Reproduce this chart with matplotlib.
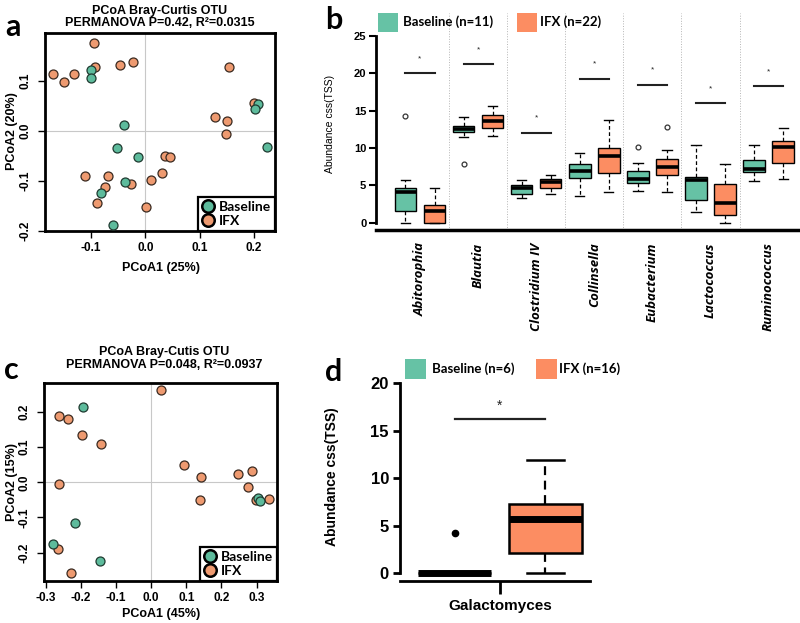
import matplotlib
matplotlib.use('Agg')
import matplotlib.pyplot as plt
from matplotlib.lines import Line2D
from matplotlib.patches import Rectangle

plt.rcParams['axes.unicode_minus'] = False
plt.rcParams['font.family'] = ['Liberation Sans', 'DejaVu Sans']

# ---------------- data ----------------
# Panel a (PCoA, all samples)
ifx_a_x = [-0.095, -0.171, -0.150, -0.131, -0.092, -0.046, -0.023, -0.112, -0.069, -0.075, -0.090,
           -0.026, 0.011, 0.030, 0.036, 0.045, 0.001, 0.155, 0.128, 0.150, 0.149, 0.201]
ifx_a_y = [0.177, 0.115, 0.099, 0.115, 0.128, 0.132, 0.139, -0.089, -0.089, -0.111, -0.144,
           -0.105, -0.097, -0.084, -0.050, -0.052, -0.152, 0.128, 0.028, 0.021, -0.006, 0.057]
base_a_x = [-0.101, -0.101, -0.039, -0.052, -0.013, -0.037, -0.082, -0.060, 0.207, 0.203, 0.225]
base_a_y = [0.123, 0.107, 0.013, -0.033, -0.052, -0.101, -0.124, -0.187, 0.055, 0.045, -0.031]

# Panel c (PCoA, fungi)
ifx_c_x = [0.029, -0.262, -0.237, -0.197, -0.143, -0.261, -0.264, -0.227, 0.094, 0.141, 0.138,
           0.246, 0.288, 0.275, 0.299, 0.335]
ifx_c_y = [0.264, 0.189, 0.181, 0.136, 0.110, -0.006, -0.190, -0.259, 0.050, 0.015, -0.051,
           0.025, 0.032, -0.014, -0.049, -0.047]
base_c_x = [-0.194, -0.217, -0.279, -0.147, 0.304, 0.309]
base_c_y = [0.214, -0.117, -0.175, -0.223, -0.045, -0.054]

# Panel b (boxplots per genus)
genera = ['Abitorophia', 'Blautia', 'Clostridium IV', 'Collinsella', 'Eubacterium',
          'Lactococcus', 'Ruminococcus']
b_base_whislo = [0.0, 11.5, 3.35, 3.6, 4.24, 1.43, 5.6]
b_base_q1 = [1.6, 12.1, 3.9, 6.0, 5.36, 3.0, 6.8]
b_base_med = [4.06, 12.6, 4.7, 6.9, 5.9, 5.7, 7.14]
b_base_q3 = [4.6, 12.95, 5.1, 7.86, 6.96, 6.16, 8.35]
b_base_whishi = [5.7, 14.15, 5.7, 9.3, 7.95, 10.36, 10.45]
b_base_fliers = [[14.3], [7.86], [], [], [10.2], [], []]
b_ifx_whislo = [0.0, 11.65, 3.85, 4.15, 4.15, 0.0, 5.9]
b_ifx_q1 = [0.0, 12.7, 4.6, 6.7, 6.34, 1.0, 8.0]
b_ifx_med = [1.56, 13.6, 5.5, 8.9, 7.5, 2.68, 10.13]
b_ifx_q3 = [2.4, 14.46, 5.85, 10.0, 8.5, 5.13, 11.0]
b_ifx_whishi = [4.7, 15.6, 6.4, 13.7, 9.7, 7.86, 12.7]
b_ifx_fliers = [[], [], [], [], [12.86], [], []]
b_sig_y = [20.0, 21.3, 12.05, 19.3, 18.5, 16.0, 18.3]
b_star_y = [21.9, 23.2, 14.0, 21.25, 20.4, 17.9, 20.2]
b_yticks = [0, 5, 10, 15, 20, 25]

# Panel d (Galactomyces)
d_label = 'Galactomyces'
d_base = dict(whislo=0.0, q1=0.0, med=0.0, q3=0.0, whishi=0.0, fliers=[4.18])
d_ifx = dict(whislo=0.0, q1=2.07, med=5.73, q3=7.24, whishi=11.9, fliers=[])
d_sig_y = 16.24
d_star_y = 17.6
d_yticks = [0, 5, 10, 15, 20]

GREEN = '#66C2A5'
ORANGE = '#FC8D62'
PT_GREEN = '#5DBB9C'
PT_ORANGE = '#EE9A70'

W, H = 800, 623
fig = plt.figure(figsize=(8, 6.23), dpi=100)


def rect(l, t, r, b):
    return [l / W, 1 - b / H, (r - l) / W, (b - t) / H]


def ftext(x, y, s, **kw):
    fig.text(x / W, 1 - y / H, s, **kw)


def frect(l, t, r, b, color):
    fig.add_artist(Rectangle((l / W, 1 - b / H), (r - l) / W, (b - t) / H,
                             transform=fig.transFigure, facecolor=color, edgecolor='none'))


# ---------------- PCoA panels ----------------
def pcoa(pos, bx, by, ix, iy, xlim, ylim, xticks, yticks):
    ax = fig.add_axes(pos)
    ax.axhline(0, color='#c8c8c8', lw=0.8, zorder=0)
    ax.axvline(0, color='#c8c8c8', lw=0.8, zorder=0)
    ax.scatter(ix, iy, s=42, c=PT_ORANGE, edgecolors='#3a2a20', linewidths=0.9, zorder=3)
    ax.scatter(bx, by, s=42, c=PT_GREEN, edgecolors='#1f3a30', linewidths=0.9, zorder=3)
    ax.set_xlim(*xlim)
    ax.set_ylim(*ylim)
    ax.set_xticks(xticks)
    ax.set_xticklabels(['%.1f' % v for v in xticks], fontweight='bold', fontsize=8.5)
    ax.set_yticks(yticks)
    ax.set_yticklabels(['%.1f' % v for v in yticks], fontweight='bold', fontsize=8.5,
                       rotation=90, va='center')
    ax.tick_params(direction='out', length=5, width=1, pad=3)
    ax.tick_params(axis='y', pad=5)
    for s in ax.spines.values():
        s.set_linewidth(2)
    handles = [Line2D([], [], ls='none', marker='o', ms=9, mfc=PT_GREEN, mec='black', mew=1.8),
               Line2D([], [], ls='none', marker='o', ms=9, mfc=PT_ORANGE, mec='black', mew=1.8)]
    leg = ax.legend(handles, ['Baseline', 'IFX'], loc='lower right', bbox_to_anchor=(1, 0),
                    borderaxespad=0, fancybox=False, edgecolor='black', framealpha=1,
                    handlelength=0.9, handletextpad=0.3, borderpad=0.3, labelspacing=0.15,
                    prop={'family': 'Lato', 'weight': 'bold', 'size': 10})
    leg.get_frame().set_linewidth(1.6)
    return ax


pcoa(rect(45, 33, 275, 231), base_a_x, base_a_y, ifx_a_x, ifx_a_y,
     (-0.185, 0.239), (-0.2, 0.196), [-0.1, 0.0, 0.1, 0.2], [-0.2, -0.1, 0.0, 0.1])
pcoa(rect(44, 383, 277, 581), base_c_x, base_c_y, ifx_c_x, ifx_c_y,
     (-0.305, 0.358), (-0.281, 0.283), [-0.3, -0.2, -0.1, 0.0, 0.1, 0.2, 0.3],
     [-0.2, -0.1, 0.0, 0.1, 0.2])

ftext(160, 11, 'PCoA Bray-Curtis OTU', ha='center', va='center', fontweight='bold', fontsize=9)
ftext(160, 23, 'PERMANOVA P=0.42, R²=0.0315', ha='center', va='center', fontweight='bold', fontsize=9)
ftext(161, 268, 'PCoA1 (25%)', ha='center', va='center', fontweight='bold', fontsize=9)
ftext(12, 131, 'PCoA2 (20%)', ha='center', va='center', fontweight='bold', fontsize=9, rotation=90)

ftext(164, 352, 'PCoA Bray-Cutis OTU', ha='center', va='center', fontweight='bold', fontsize=9)
ftext(164, 365, 'PERMANOVA P=0.048, R²=0.0937', ha='center', va='center', fontweight='bold', fontsize=9)
ftext(161, 614, 'PCoA1 (45%)', ha='center', va='center', fontweight='bold', fontsize=9)
ftext(12, 482, 'PCoA2 (15%)', ha='center', va='center', fontweight='bold', fontsize=9, rotation=90)

# ---------------- Panel b ----------------
axb = fig.add_axes(rect(376, 13, 800, 230))
n = len(genera)
centers = list(range(n))
stats_base = [dict(whislo=b_base_whislo[i], q1=b_base_q1[i], med=b_base_med[i], q3=b_base_q3[i],
                   whishi=b_base_whishi[i], fliers=b_base_fliers[i]) for i in range(n)]
stats_ifx = [dict(whislo=b_ifx_whislo[i], q1=b_ifx_q1[i], med=b_ifx_med[i], q3=b_ifx_q3[i],
                  whishi=b_ifx_whishi[i], fliers=b_ifx_fliers[i]) for i in range(n)]
common = dict(widths=0.37, patch_artist=True, manage_ticks=False, capwidths=0.16,
              medianprops=dict(color='black', lw=2.6, solid_capstyle='butt'),
              whiskerprops=dict(color='black', lw=0.9, linestyle=(0, (3, 2))),
              capprops=dict(color='black', lw=1.0),
              flierprops=dict(marker='o', ms=3.5, mfc='none', mec='#333333', mew=0.9))
axb.bxp(stats_base, positions=[c - 0.25 for c in centers],
        boxprops=dict(facecolor=GREEN, edgecolor='black', lw=1.0), **common)
axb.bxp(stats_ifx, positions=[c + 0.25 for c in centers],
        boxprops=dict(facecolor=ORANGE, edgecolor='black', lw=1.0), **common)
for i in range(n):
    axb.plot([i - 0.25, i + 0.25], [b_sig_y[i], b_sig_y[i]], color='#222222', lw=1.5)
    axb.text(i, b_star_y[i], '*', ha='center', va='center', fontsize=6, color='#222222')
for i in range(n - 1):
    axb.axvline(i + 0.5, color='#b5b5b5', lw=0.7, ls=':', zorder=0)
axb.set_xlim(-0.757, 6.54)
axb.set_ylim(-0.977, 28.08)
axb.spines['top'].set_visible(False)
axb.spines['right'].set_visible(False)
axb.spines['left'].set_bounds(0, 25)
axb.spines['left'].set_linewidth(2)
axb.spines['bottom'].set_linewidth(2.5)
axb.set_yticks(b_yticks)
axb.set_yticklabels([str(v) for v in b_yticks], fontweight='bold', fontsize=8)
axb.tick_params(axis='y', direction='out', length=5, width=1.5, pad=2)
axb.set_xticks(centers)
axb.set_xticklabels(genera, rotation=90, fontstyle='italic', fontweight='bold', fontsize=9.5,
                    ha='center', va='top', family=['Open Sans', 'DejaVu Sans'])
axb.tick_params(axis='x', length=0, pad=9)
ftext(330, 124, 'Abundance css(TSS)', ha='center', va='center', fontsize=7.5, rotation=90)

# legend b
frect(378, 13, 398, 32, GREEN)
ftext(403, 22, 'Baseline (n=11)', ha='left', va='center', fontsize=9.5, fontweight='bold',
      family=['Lato', 'DejaVu Sans'])
frect(517, 13, 537, 32, ORANGE)
ftext(540, 22, 'IFX (n=22)', ha='left', va='center', fontsize=9.5, fontweight='bold',
      family=['Lato', 'DejaVu Sans'])

# ---------------- Panel d ----------------
axd = fig.add_axes(rect(400, 375, 590, 581))
dcommon = dict(widths=0.4, patch_artist=True, manage_ticks=False, capwidths=0.2,
               medianprops=dict(color='black', lw=5, solid_capstyle='butt'),
               whiskerprops=dict(color='black', lw=1.6, linestyle=(0, (4, 2.5))),
               capprops=dict(color='black', lw=1.8),
               flierprops=dict(marker='o', ms=4.5, mfc='black', mec='black'))
axd.bxp([d_base], positions=[0.75], boxprops=dict(facecolor=GREEN, edgecolor='black', lw=1.8), **dcommon)
axd.bxp([d_ifx], positions=[1.25], boxprops=dict(facecolor=ORANGE, edgecolor='black', lw=1.8), **dcommon)
axd.plot([0.75, 1.25], [d_sig_y, d_sig_y], color='#222222', lw=1.6)
axd.text(1.0, d_star_y, '*', ha='center', va='center', fontsize=10, color='#222222')
axd.set_xlim(0.45, 1.495)
axd.set_ylim(-0.843, 20.875)
axd.spines['top'].set_visible(False)
axd.spines['right'].set_visible(False)
axd.spines['left'].set_bounds(0, 20)
axd.spines['left'].set_linewidth(2)
axd.spines['bottom'].set_linewidth(2)
axd.set_yticks(d_yticks)
axd.set_yticklabels([str(v) for v in d_yticks], fontweight='bold', fontsize=12)
axd.tick_params(axis='y', direction='out', length=5, width=2, pad=3)
axd.set_xticks([1.0])
axd.set_xticklabels([d_label], fontweight='bold', fontsize=11)
axd.tick_params(axis='x', direction='out', length=9, width=2, pad=4)
ftext(332, 477, 'Abundance css(TSS)', ha='center', va='center', fontsize=10, fontweight='bold',
      rotation=90)

# legend d
frect(405, 359, 426, 379, GREEN)
ftext(432, 369, 'Baseline (n=6)', ha='left', va='center', fontsize=9.5, fontweight='bold',
      family=['Lato', 'DejaVu Sans'])
frect(536, 359, 557, 379, ORANGE)
ftext(559, 369, 'IFX (n=16)', ha='left', va='center', fontsize=9.5, fontweight='bold',
      family=['Lato', 'DejaVu Sans'])

# panel letters
for x, y, s in [(13, 27, 'a'), (334, 20, 'b'), (11, 370, 'c'), (334, 372, 'd')]:
    ftext(x, y, s, ha='center', va='center', fontsize=22, fontweight='bold',
          family=['Lato', 'DejaVu Sans'])

fig.savefig('out.png', dpi=100)
